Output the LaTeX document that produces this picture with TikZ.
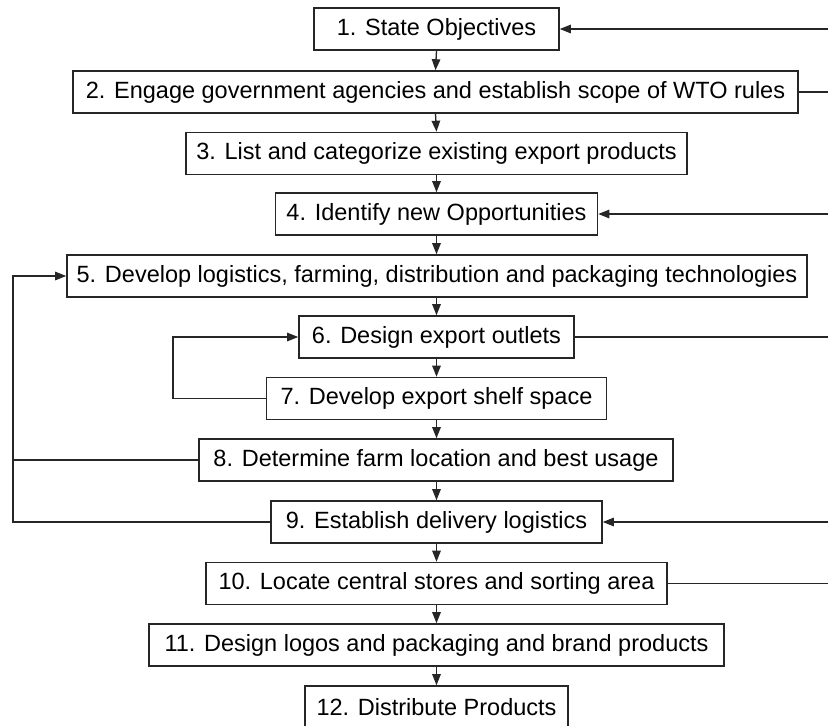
\documentclass[tikz,border=0pt]{standalone}
\usepackage{fontspec}
\setmainfont{Liberation Sans}
\usetikzlibrary{arrows.meta}
\tikzset{
  x=1pt,y=-1pt,
  stepbox/.style={draw=black!85, line width=1.6pt, rectangle, inner sep=0pt, minimum height=42pt,
    font=\fontsize{23.5}{27}\selectfont, text=black, anchor=center},
  conn/.style={draw=black!85, line width=1.3pt},
  arr/.style={conn, -{Triangle[length=11pt,width=8.5pt]}},
}
\begin{document}
\begin{tikzpicture}
\useasboundingbox (0,0) rectangle (828,726);
\node[stepbox, minimum width=245pt] (b1) at (436.5,29) {1. State Objectives};
\node[stepbox, minimum width=725pt] (b2) at (435.5,92) {2. Engage government agencies and establish scope of WTO rules};
\node[stepbox, minimum width=501pt] (b3) at (436.5,153.5) {3. List and categorize existing export products};
\node[stepbox, minimum width=322pt] (b4) at (436.5,214) {4. Identify new Opportunities};
\node[stepbox, minimum width=740pt] (b5) at (437,276) {5. Develop logistics, farming, distribution and packaging technologies};
\node[stepbox, minimum width=275pt] (b6) at (436.5,337) {6. Design export outlets};
\node[stepbox, minimum width=340pt] (b7) at (436.5,398.5) {7. Develop export shelf space};
\node[stepbox, minimum width=474pt] (b8) at (436,460) {8. Determine farm location and best usage};
\node[stepbox, minimum width=331pt] (b9) at (436.5,522) {9. Establish delivery logistics};
\node[stepbox, minimum width=461pt] (b10) at (436.5,583.5) {10. Locate central stores and sorting area};
\node[stepbox, minimum width=575pt] (b11) at (436.5,645) {11. Design logos and packaging and brand products};
\node[stepbox, minimum width=263pt, minimum height=43pt] (b12) at (436.5,707.5) {12. Distribute Products};

% main chain
\draw[arr] (b1.south) -- (b2.north);
\draw[arr] (b2.south) -- (b3.north);
\draw[arr] (b3.south) -- (b4.north);
\draw[arr] (b4.south) -- (b5.north -| b4.south);
\draw[arr] (b5.south -| b6.north) -- (b6.north);
\draw[arr] (b6.south) -- (b7.north);
\draw[arr] (b7.south) -- (b8.north -| b7.south);
\draw[arr] (b8.south -| b9.north) -- (b9.north);
\draw[arr] (b9.south) -- (b10.north);
\draw[arr] (b10.south) -- (b11.north);
\draw[arr] (b11.south) -- (b12.north);

% right side connectors
\coordinate (r1) at (828,29);
\coordinate (r2) at (828,92);
\coordinate (r4) at (828,214);
\coordinate (r6) at (828,337);
\coordinate (r9) at (828,522);
\coordinate (r10) at (828,583.5);
\draw[arr] (r1) -- (b1.east);
\draw[conn] (b2.east) -- (r2);
\draw[arr] (r4) -- (b4.east);
\draw[conn] (b6.east) -- (r6);
\draw[arr] (r9) -- (b9.east);
\draw[conn] (b10.east) -- (r10);

% left loops
\coordinate (lx) at (13,0);
\coordinate (ix) at (173,0);
\draw[arr] (b9.west) -- (b9.west -| lx) -- (b5.west -| lx) -- (b5.west);
\draw[conn] (b8.west) -- (b8.west -| lx);
\draw[arr] (b7.west) -- (b7.west -| ix) -- (b6.west -| ix) -- (b6.west);
\end{tikzpicture}
\end{document}
